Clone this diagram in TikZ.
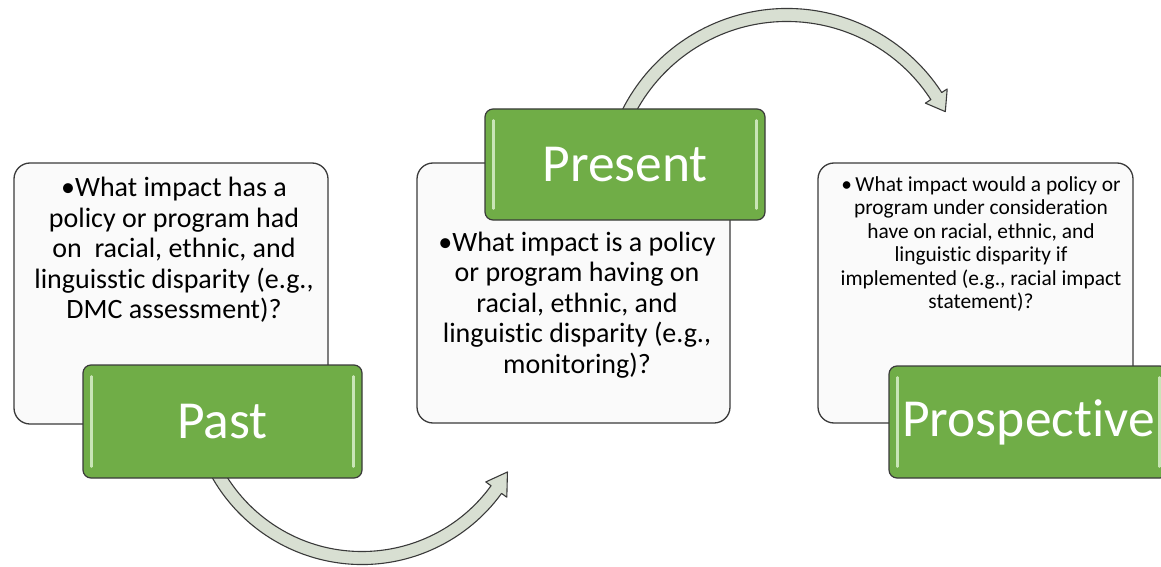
\documentclass[tikz,border=0pt]{standalone}
\usepackage{fontspec}
\setmainfont{Carlito}[Ligatures=NoCommon]
\definecolor{boxgreen}{HTML}{70AD47}
\definecolor{stripe}{HTML}{C9E5B6}
\definecolor{boxfill}{HTML}{FAFAFA}
\definecolor{arrowfill}{HTML}{D8DFD2}
\definecolor{edge}{HTML}{3A3A3A}
\tikzset{
  textbox/.style={draw=edge, line width=1.3pt, fill=boxfill, rounded corners=16pt, inner sep=0pt},
  greenbox/.style={draw=edge, line width=1.2pt, fill=boxgreen, rounded corners=8pt, inner sep=0pt},
  labeltext/.style={text=white, font=\fontsize{53.5}{60}\selectfont},
  bodytext/.style={align=center, font=\fontsize{28}{30.6}\selectfont, inner sep=0pt},
  smalltext/.style={align=center, font=\fontsize{21.4}{23.4}\selectfont, inner sep=0pt},
  bandarrow/.style={draw=edge, line width=1.1pt, fill=arrowfill, line join=round},
  stripeline/.style={stripe, line width=2.6pt, line cap=round}
}
\newcommand{\greenstripes}[1]{%
  \draw[stripeline] ([xshift=9pt,yshift=-12pt]#1.north west) -- ([xshift=9pt,yshift=12pt]#1.south west);
  \draw[stripeline] ([xshift=-9pt,yshift=-12pt]#1.north east) -- ([xshift=-9pt,yshift=12pt]#1.south east);
}
\begin{document}
\begin{tikzpicture}[x=1pt,y=1pt]
\useasboundingbox (0,0) rectangle (1161,-567);
% curved arrows
\coordinate (cb) at (362,-392);
\draw[bandarrow] ([shift={(cb)}]205:172.5pt) arc[start angle=205,end angle=324,radius=172.5pt]
  -- ([shift={(cb)}]324:179pt) -- ([shift={(cb)}]331.2:166pt) -- ([shift={(cb)}]324:153pt)
  -- ([shift={(cb)}]324:159.5pt) arc[start angle=324,end angle=205,radius=159.5pt] -- cycle;
\coordinate (ct) at (787,-193);
\draw[bandarrow] ([shift={(ct)}]156:184.5pt) arc[start angle=156,end angle=33,radius=184.5pt]
  -- ([shift={(ct)}]33:191pt) -- ([shift={(ct)}]27.2:178pt) -- ([shift={(ct)}]33:165pt)
  -- ([shift={(ct)}]33:171.5pt) arc[start angle=33,end angle=156,radius=171.5pt] -- cycle;
% text boxes
\node[textbox, minimum width=314pt, minimum height=261pt] (pastbox) at (171,-293.5) {};
\node[textbox, minimum width=313pt, minimum height=260pt] (presbox) at (573.5,-293) {};
\node[textbox, minimum width=315pt, minimum height=260pt] (prosbox) at (975.5,-293) {};
\node[bodytext] (pasttxt) at (174,-250) {•What impact has a\\policy or program had\\on\ \ racial, ethnic, and\\linguisstic disparity (e.g.,\\DMC assessment)?};
\node[bodytext] (prestxt) at (577,-305) {•What impact is a policy\\or program having on\\racial, ethnic, and\\linguistic disparity (e.g.,\\monitoring)?};
\node[smalltext] (prostxt) at (981,-244) {•\,What impact would a policy or\\program under consideration\\have on racial, ethnic, and\\linguistic disparity if\\implemented (e.g., racial impact\\statement)?};
% green label boxes
\node[greenbox, minimum width=279pt, minimum height=113pt] (past) at (222.5,-421.5) {};
\greenstripes{past}
\node[labeltext] (pastlbl) at (past) {Past};
\node[greenbox, minimum width=280pt, minimum height=111pt] (present) at (625,-164.5) {};
\greenstripes{present}
\node[labeltext] (preslbl) at (present) {Present};
\node[greenbox, minimum width=279pt, minimum height=112pt] (prosp) at (1028.5,-422) {};
\greenstripes{prosp}
\node[labeltext] (proslbl) at (prosp) {Prospective};
\end{tikzpicture}
\end{document}
